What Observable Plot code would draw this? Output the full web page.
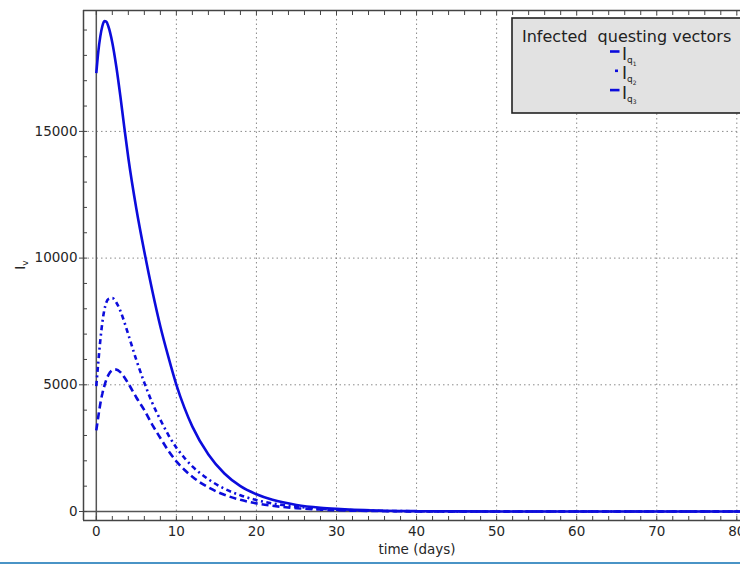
<!DOCTYPE html>
<html><head><meta charset="utf-8">
<script src="https://cdn.jsdelivr.net/npm/d3@7"></script>
<script src="https://cdn.jsdelivr.net/npm/@observablehq/plot@0.6"></script>
<style>
html,body{margin:0;padding:0;background:#fff;}
#wrap{position:relative;width:740px;height:566px;overflow:hidden;}
#bar{position:absolute;left:0;top:562px;width:740px;height:2px;background:#4a94c6;}
</style></head><body><div id="wrap"><div id="chart"></div><div id="bar"></div></div>
<script>
// time points (days)
const timeDays = [0,0.25,0.5,0.75,1,1.25,1.5,2,2.5,3,3.5,4,5,6,7,8,9,10,11,12,14,16,18,20,22,25,28,30,35,40,45,50,60,70,81];
// I_q1 (solid)
const iq1 = [17300,18150,18750,19150,19350,19330,19150,18500,17550,16400,15150,13950,11950,10250,8700,7300,6100,5000,4100,3350,2250,1500,1000,680,460,260,150,105,40,15,6,2,0,0,0];
// I_q2 (dash-dot)
const iq2 = [4950,5900,6750,7450,7950,8250,8380,8420,8250,7920,7480,6980,5980,5080,4280,3620,3020,2520,2120,1780,1270,900,640,450,320,190,110,75,28,10,4,1,0,0,0];
// I_q3 (dashed)
const iq3 = [3200,3750,4250,4650,4950,5200,5380,5570,5600,5500,5300,5050,4500,4000,3420,2900,2400,1980,1650,1370,950,660,460,320,225,130,75,50,18,6,2,1,0,0,0];

const seriesSubs = ["1","2","3"];
const seriesValues = [iq1, iq2, iq3];
const xMajorTicks = [0,10,20,30,40,50,60,70,80];
const xMinorTicks = [0,2,4,6,8,10,12,14,16,18,20,22,24,26,28,30,32,34,36,38,40,42,44,46,48,50,52,54,56,58,60,62,64,66,68,70,72,74,76,78,80];
const yMajorTicks = [0,5000,10000,15000];
const yMinorTicks = [0,1000,2000,3000,4000,5000,6000,7000,8000,9000,10000,11000,12000,13000,14000,15000,16000,17000,18000,19000];
const xLabel = "time (days)";
const legendTitle = "Infected  questing vectors";
const xDomain = [-1.6, 80.46];
const yDomain = [-355, 19771];

const blue = "#0c0cdc";
const dashes = [null, "5,3.5,2,3.5", "7,4"];
const font = "DejaVu Sans";

const rows = seriesValues.map((vals, k) => timeDays.map((t, i) => ({t, v: vals[i], s: k})));

const tickStyle = {stroke: "#444", strokeWidth: 1, label: null, tickFormat: () => ""};

const svg = Plot.plot({
  width: 740, height: 566,
  marginLeft: 83, marginRight: 0, marginTop: 10, marginBottom: 46,
  style: {fontFamily: font, fontSize: "13.5px", color: "#262626", background: "#fff", overflow: "hidden"},
  x: {domain: xDomain},
  y: {domain: yDomain},
  marks: [
    Plot.gridX(xMajorTicks.filter(d => d > 0), {stroke: "#8a8a8a", strokeOpacity: 1, strokeDasharray: "1.5,3"}),
    Plot.gridY(yMajorTicks.filter(d => d > 0), {stroke: "#8a8a8a", strokeOpacity: 1, strokeDasharray: "1.5,3"}),
    Plot.ruleX([0], {stroke: "#555", strokeWidth: 1.5}),
    Plot.ruleY([0], {stroke: "#555", strokeWidth: 1.5}),
    ...rows.map((r, k) => Plot.line(r, {x: "t", y: "v", stroke: blue, strokeWidth: 2.6, strokeDasharray: dashes[k], strokeLinecap: "butt", strokeLinejoin: "miter", curve: "monotone-x", clip: true})),
    Plot.ruleX([xDomain[0]], {stroke: "#444", strokeWidth: 1.5}),
    Plot.ruleY([yDomain[0], yDomain[1]], {stroke: "#444", strokeWidth: 1.5}),
    Plot.axisX({anchor: "bottom", ticks: xMinorTicks, tickSize: -4, ...tickStyle}),
    Plot.axisX({anchor: "top", ticks: xMinorTicks, tickSize: -4, ...tickStyle}),
    Plot.axisY({anchor: "left", ticks: yMinorTicks, tickSize: -4, ...tickStyle}),
    Plot.axisY({anchor: "left", ticks: yMajorTicks, tickSize: 4, tickPadding: 2, stroke: "#444", label: null, tickFormat: d => String(d)}),
    Plot.axisX({anchor: "bottom", ticks: xMajorTicks, tickSize: 0, tickPadding: 6, label: null, tickFormat: d => String(d)}),
    Plot.text([xLabel], {frameAnchor: "bottom", dy: 33, dx: 5, text: d => d, fontSize: 13.5, fill: "#262626"})
  ]
});

const s = d3.select(svg);
// y axis label I_v
const yl = s.append("text").attr("transform", "translate(25,265) rotate(-90)")
  .attr("text-anchor", "middle").attr("fill", "#262626").attr("font-family", font).attr("font-size", 13.5);
yl.append("tspan").text("I");
yl.append("tspan").attr("dy", 3).attr("font-size", 9).text("v");

// legend
const lg = s.append("g").attr("font-family", font).attr("text-anchor", "start");
lg.append("rect").attr("x", 512).attr("y", 18).attr("width", 260).attr("height", 95)
  .attr("fill", "#e2e2e2").attr("stroke", "#222").attr("stroke-width", 1.6);
lg.append("text").attr("x", 522).attr("y", 42).attr("font-size", 16).attr("fill", "#222").attr("text-anchor", "start").style("white-space", "pre").text(legendTitle);
seriesSubs.forEach((sub, i) => {
  const yc = 51.5 + i * 19.3;
  const isDot = i === 1;
  lg.append("line").attr("x1", isDot ? 615 : 610).attr("x2", isDot ? 618 : 619.5)
    .attr("y1", yc).attr("y2", yc).attr("stroke", blue).attr("stroke-width", 2.6);
  const t = lg.append("text").attr("x", 622).attr("y", yc + 8.5).attr("fill", "#222").attr("font-size", 17).attr("text-anchor", "start");
  t.append("tspan").text("I");
  t.append("tspan").attr("dy", 3).attr("font-size", 9).text("q");
  t.append("tspan").attr("dy", 2.5).attr("font-size", 6).text(sub);
});

document.getElementById("chart").appendChild(svg);
</script></body></html>
